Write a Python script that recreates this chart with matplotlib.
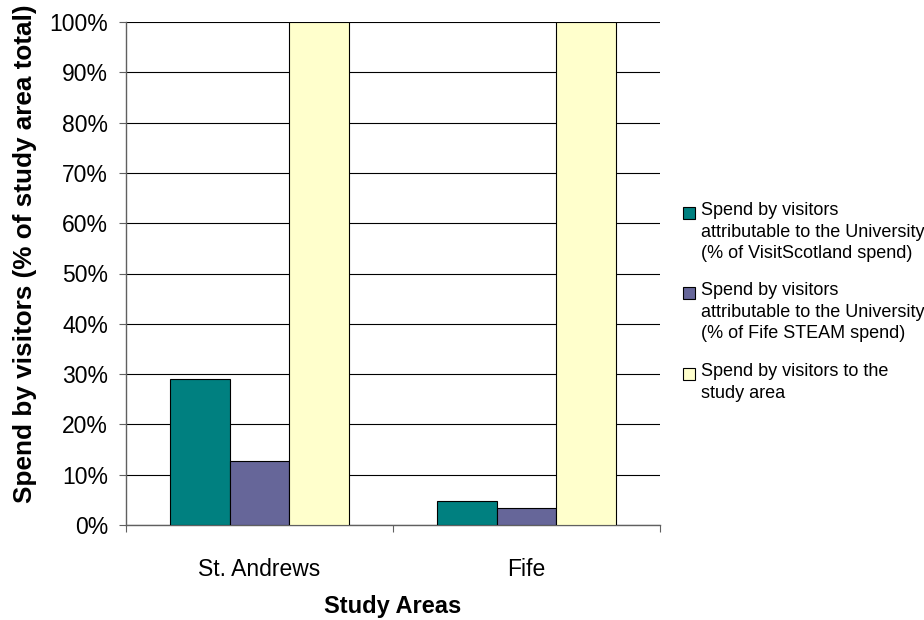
import numpy as np
import matplotlib
matplotlib.use('Agg')
import matplotlib.pyplot as plt
from matplotlib.patches import Rectangle

# Chart data.
areas = ['St. Andrews', 'Fife']
series = [
  'Spend by visitors\nattributable to the University\n(% of VisitScotland spend)',
  'Spend by visitors\nattributable to the University\n(% of Fife STEAM spend)',
  'Spend by visitors to the\nstudy area',
]
visitScotland = [29.1, 4.8]
fifeSteam = [12.8, 3.4]
studyArea = [100.0, 100.0]
colors = ['#008080', '#666699', '#FFFFCC']
yTicks = list(range(0, 101, 10))

plt.rcParams['font.family'] = ['Liberation Sans', 'DejaVu Sans']

W, H = 924, 620
fig = plt.figure(figsize=(W / 100, H / 100), dpi=100)
ax = fig.add_axes([126 / W, 95 / H, 534 / W, 503 / H])

# Grouped bars.
x = np.arange(len(areas))
width = 0.2235
for k, vals in enumerate([visitScotland, fifeSteam, studyArea]):
  ax.bar(x + (k - 1) * width, vals, width, color=colors[k],
         edgecolor='black', linewidth=0.8, zorder=3)

# Axes setup.
ax.set_xlim(-0.5, len(areas) - 0.5)
ax.set_ylim(0, 100)
ax.set_yticks(yTicks)
ax.set_yticklabels(['{}%'.format(t) for t in yTicks], fontsize=16.5)
ax.yaxis.grid(True, color='black', linewidth=0.8, zorder=0)
ax.set_xticks(np.arange(len(areas) + 1) - 0.5)
ax.set_xticklabels([])
ax.set_xticks(x, minor=True)
ax.set_xticklabels(areas, minor=True, fontsize=16.5)
ax.tick_params(axis='x', which='minor', length=0, pad=24)
ax.tick_params(axis='x', which='major', length=5, color='#606060',
               direction='out')
ax.tick_params(axis='y', length=5, color='#606060', pad=8, direction='out')
for side in ['top', 'right']:
  ax.spines[side].set_visible(False)
for side in ['left', 'bottom']:
  ax.spines[side].set_color('#606060')
  ax.spines[side].set_linewidth(1.0)

fig.text(393 / W, 1 - 606 / H, 'Study Areas', fontsize=17, fontweight='bold',
         ha='center', va='center')
fig.text(25 / W, 1 - 254 / H, 'Spend by visitors (% of study area total)',
         fontsize=18.8, fontweight='bold', rotation=90, ha='center',
         va='center')

# Legend, square level with the first line of each entry.
firstLine = [213, 293, 374]
for k, label in enumerate(series):
  yc = firstLine[k]
  fig.patches.append(Rectangle((683 / W, 1 - (yc + 6) / H), 12 / W, 12 / H,
                               transform=fig.transFigure, facecolor=colors[k],
                               edgecolor='black', linewidth=0.8))
  fig.text(701 / W, 1 - (yc - 11) / H, label, fontsize=13, ha='left',
           va='top', linespacing=1.35)

fig.savefig('out.png', dpi=100)
